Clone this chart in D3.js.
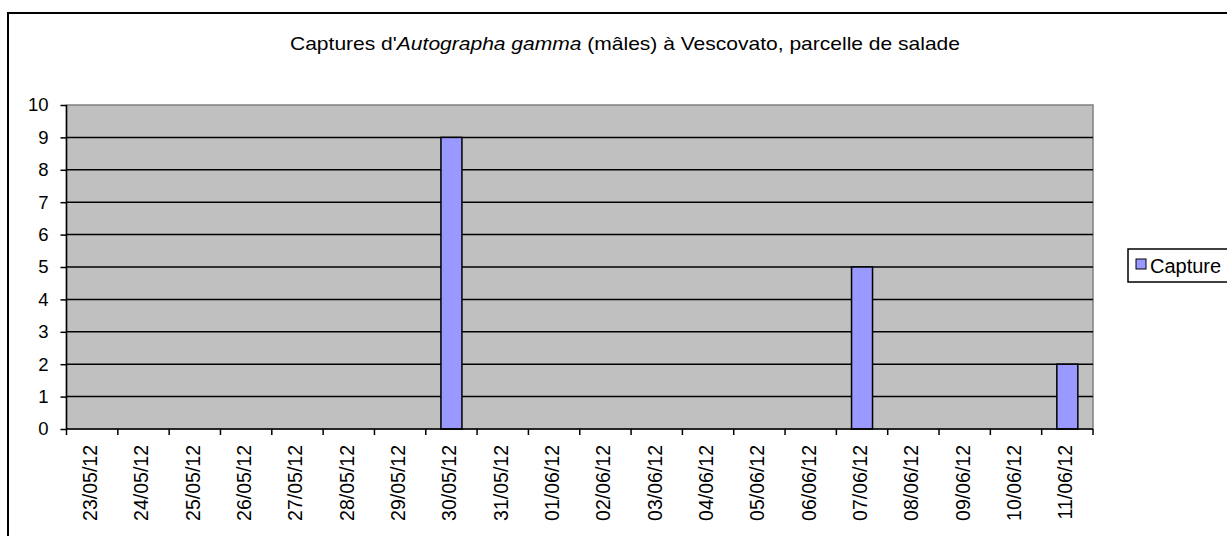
<!DOCTYPE html>
<html><head><meta charset="utf-8">
<script src="https://cdn.jsdelivr.net/npm/d3@7"></script>
<style>body{margin:0;background:#fff}svg{display:block;font-family:"Liberation Sans",Arial,sans-serif}</style>
</head><body><svg id="c" width="1227" height="536"></svg>
<script>
const dates = ["23/05/12","24/05/12","25/05/12","26/05/12","27/05/12","28/05/12","29/05/12","30/05/12","31/05/12","01/06/12","02/06/12","03/06/12","04/06/12","05/06/12","06/06/12","07/06/12","08/06/12","09/06/12","10/06/12","11/06/12"];
const captures = [0,0,0,0,0,0,0,9,0,0,0,0,0,0,0,5,0,0,0,2];
const yTicks = [0,1,2,3,4,5,6,7,8,9,10];
const seriesName = "Capture";

const svg = d3.select("#c");
const L = 66.5, R = 1093, T = 105, B = 429;
// outer frame
svg.append("rect").attr("x",8).attr("y",13).attr("width",1260).attr("height",560)
  .attr("fill","#fff").attr("stroke","#000").attr("stroke-width",2);

const xb = d3.scaleBand().domain(dates).range([L,R]);
const y = d3.scaleLinear().domain([0,10]).range([B,T]);

svg.append("rect").attr("x",L).attr("y",T).attr("width",R-L).attr("height",B-T)
  .attr("fill","#C0C0C0").attr("stroke","#808080").attr("stroke-width",1.5);

svg.append("g").selectAll("line").data(yTicks.filter(d=>d>0&&d<10)).join("line")
  .attr("x1",L).attr("x2",R).attr("y1",d=>y(d)).attr("y2",d=>y(d))
  .attr("stroke","#000").attr("stroke-width",1.5);

svg.append("g").selectAll("rect").data(captures).join("rect")
  .attr("x",(d,i)=>xb(dates[i])+xb.bandwidth()/2-10.5)
  .attr("width",21)
  .attr("y",d=>y(d)).attr("height",d=>B-y(d))
  .attr("fill","#9999FF").attr("stroke","#000").attr("stroke-width",1.5)
  .attr("display",d=>d>0?null:"none");

// y axis
const ya = svg.append("g").attr("transform",`translate(${L},0)`)
  .call(d3.axisLeft(y).tickValues(yTicks).tickSize(6).tickPadding(12).tickFormat(d3.format("d")));
ya.select(".domain").attr("stroke","#000").attr("stroke-width",1.5).attr("d",`M0,${T}V${B}`);
ya.selectAll(".tick line").attr("stroke","#000").attr("stroke-width",1.5);
ya.selectAll("text").attr("font-size",18.5).attr("fill","#000").attr("font-family","Liberation Sans, Arial");

// x axis
const xa = svg.append("g").attr("transform",`translate(0,${B})`);
xa.append("line").attr("x1",L).attr("x2",R).attr("stroke","#000").attr("stroke-width",1.5);
const bounds = dates.map(d=>xb(d)).concat([R]);
xa.selectAll("line.tk").data(bounds).join("line").attr("class","tk")
  .attr("x1",d=>d).attr("x2",d=>d).attr("y1",0).attr("y2",6).attr("stroke","#000").attr("stroke-width",1.5);
xa.selectAll("text").data(dates).join("text")
  .attr("transform",d=>`translate(${xb(d)+xb.bandwidth()/2+5},16) rotate(-90)`)
  .attr("text-anchor","end").attr("font-size",19.5).attr("fill","#000").text(d=>d);

// title
const title = svg.append("text").attr("x",625).attr("y",50).attr("text-anchor","middle")
  .attr("font-size",19).attr("fill","#000")
  .attr("textLength",670).attr("lengthAdjust","spacingAndGlyphs");
title.append("tspan").text("Captures d'");
title.append("tspan").attr("font-style","italic").text("Autographa gamma");
title.append("tspan").text("  (mâles) à Vescovato, parcelle de salade");

// legend
const lg = svg.append("g");
lg.append("rect").attr("x",1128).attr("y",249).attr("width",140).attr("height",33)
  .attr("fill","#fff").attr("stroke","#000").attr("stroke-width",1.5);
lg.append("rect").attr("x",1136).attr("y",259).attr("width",10).attr("height",10)
  .attr("fill","#9999FF").attr("stroke","#000").attr("stroke-width",1);
lg.append("text").attr("x",1150).attr("y",273).attr("font-size",20).attr("fill","#000").text(seriesName);
</script></body></html>
